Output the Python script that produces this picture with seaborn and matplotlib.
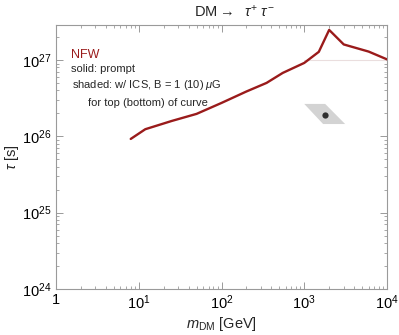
import numpy as np
import pandas as pd
import matplotlib
matplotlib.use('Agg')
import matplotlib.pyplot as plt
import seaborn as sns

# curve values (prompt, NFW)
mass_gev = [8, 12, 25, 50, 100, 200, 350, 550, 1000, 1500, 2000, 3000, 6000, 10000]
tau_s = [9.25e25, 1.24e26, 1.59e26, 1.97e26, 2.74e26, 3.87e26, 5.01e26, 6.78e26,
         9.16e26, 1.28e27, 2.48e27, 1.60e27, 1.29e27, 1.02e27]

# shaded ICS region (parallelogram) and its dark core
band_m = [1000, 1790, 3120, 1690]
band_tau = [2.66e26, 2.66e26, 1.45e26, 1.45e26]
core_m = [1790]
core_tau = [1.91e26]

x_ticks = [1, 10, 100, 1000, 10000]
x_labels = ['1', r'$10^{1}$', r'$10^{2}$', r'$10^{3}$', r'$10^{4}$']
y_ticks = [1e24, 1e25, 1e26, 1e27]
y_labels = [r'$10^{24}$', r'$10^{25}$', r'$10^{26}$', r'$10^{27}$']

sns.set_style('ticks')
plt.rcParams['font.family'] = ['Liberation Sans', 'DejaVu Sans']
plt.rcParams['mathtext.fontset'] = 'custom'
plt.rcParams['mathtext.rm'] = 'Liberation Sans'
plt.rcParams['mathtext.it'] = 'Liberation Sans:italic'
plt.rcParams['mathtext.bf'] = 'Liberation Sans:bold'

gray = '#9a9a9a'
red = '#9a1b1b'

fig = plt.figure(figsize=(3.99, 3.35), dpi=100)
ax = fig.add_axes([56 / 399, 1 - 289 / 335, (387 - 56) / 399, (289 - 24.5) / 335])

df = pd.DataFrame({'m': mass_gev, 'tau': tau_s})

# shaded region
ax.fill(band_m, band_tau, color='#d3d3d3', lw=0, zorder=1)
ax.plot(core_m, core_tau, 'o', ms=4.5, color='#2e2e2e', mec='none', zorder=2)

# faint reference line at 1e27
ax.plot([1000, 10000], [1e27, 1e27], color='#eadede', lw=0.8, zorder=1)

sns.lineplot(data=df, x='m', y='tau', ax=ax, color=red, lw=1.7, zorder=3)

ax.set_xscale('log')
ax.set_yscale('log')
ax.set_xlim(1, 1e4)
ax.set_ylim(1e24, 2.92e27)
ax.set_xticks(x_ticks)
ax.set_xticklabels(x_labels)
ax.set_yticks(y_ticks)
ax.set_yticklabels(y_labels)

for s in ax.spines.values():
    s.set_color(gray)
    s.set_linewidth(0.8)
ax.tick_params(which='both', direction='in', top=True, right=True, color=gray,
               labelsize=10.5, labelcolor='black')
ax.tick_params(which='major', length=5, width=0.7, pad=3)
ax.tick_params(which='minor', length=2.5, width=0.6)

ax.set_xlabel(r'$m_{\rm DM}$ [GeV]', fontsize=10.5, labelpad=2)
ax.set_ylabel(r'$\tau$ [s]', fontsize=10.5)
ax.yaxis.set_label_coords(-0.106, 0.5)
ax.text(0.54, 1.02, r'DM$\rightarrow$  $\tau^{+}$ $\tau^{-}$', transform=ax.transAxes,
        ha='center', va='bottom', fontsize=10.5)

# annotations
ax.text(0.045, 0.885, 'NFW', transform=ax.transAxes, color=red, fontsize=9, va='center')
ax.text(0.045, 0.83, 'solid: prompt', transform=ax.transAxes, fontsize=8, va='center')
ax.text(0.048, 0.77, r'shaded: w/ ICS, B = 1 (10) $\mu$G', transform=ax.transAxes,
        fontsize=8, va='center')
ax.text(0.097, 0.705, 'for top (bottom) of curve', transform=ax.transAxes,
        fontsize=8, va='center')

fig.savefig('out.png', dpi=100)
